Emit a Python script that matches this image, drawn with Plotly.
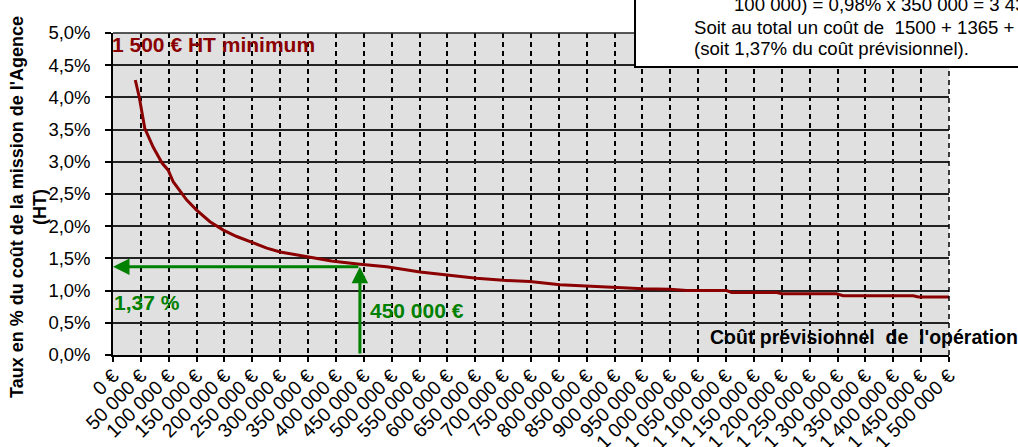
import plotly.graph_objects as go

# ---- data ----
cost = [40000, 47000, 57000, 72000, 88000, 99000, 108000, 132000, 150000, 174000,
        198000, 222000, 252000, 276000, 300000, 348000, 392000, 443000, 491000, 551000,
        599000, 652000, 700000, 748000, 802000, 850000, 904000, 951000, 999000, 1029000,
        1101000, 1110000, 1191000, 1200000, 1298000, 1310000, 1436000, 1445000, 1500000]
rate = [4.27, 4.01, 3.52, 3.23, 2.98, 2.87, 2.69, 2.41, 2.25, 2.07,
        1.94, 1.84, 1.74, 1.66, 1.60, 1.53, 1.46, 1.41, 1.37, 1.29,
        1.24, 1.19, 1.16, 1.14, 1.09, 1.07, 1.05, 1.03, 1.02, 1.00,
        1.00, 0.97, 0.97, 0.95, 0.95, 0.92, 0.92, 0.90, 0.90]

x_ticks = list(range(0, 1500001, 50000))
x_ticktext = [f"{v:,}".replace(",", " ") + " €" for v in x_ticks]
y_ticks = [0, 0.5, 1.0, 1.5, 2.0, 2.5, 3.0, 3.5, 4.0, 4.5, 5.0]
y_ticktext = ["0,0%", "0,5%", "1,0%", "1,5%", "2,0%", "2,5%", "3,0%", "3,5%", "4,0%", "4,5%", "5,0%"]

example_cost = 443000
example_rate = 1.37

# ---- layout geometry (pixels) ----
W, H = 1018, 447
L, R, T, B = 113, 949, 33, 355


def xp(px):
    return (px - L) / (R - L)


def yp(py):
    return (B - py) / (B - T)


FONT = "Arial, Liberation Sans, sans-serif"
GREEN = "#008000"
DARKRED = "#8B0000"

fig = go.Figure()
fig.add_trace(go.Scatter(x=cost, y=rate, mode="lines",
                         line=dict(color=DARKRED, width=3), showlegend=False,
                         hoverinfo="skip"))

fig.update_layout(
    width=W, height=H,
    margin=dict(l=L, r=W - R, t=T, b=H - B, autoexpand=False),
    paper_bgcolor="white",
    plot_bgcolor="#E0E0E0",
    font=dict(family=FONT, color="black"),
    showlegend=False,
)

fig.update_xaxes(
    range=[0, 1500000], tickmode="array", tickvals=x_ticks, ticktext=x_ticktext,
    tickangle=-45, tickfont=dict(size=19.5, family=FONT),
    showgrid=True, gridcolor="black", gridwidth=1.5, griddash="5px,4px",
    showline=True, linecolor="black", linewidth=1.5,
    ticks="outside", ticklen=5, tickcolor="black", tickwidth=1.5,
    ticklabelstandoff=-5,
    zeroline=False, automargin=False,
)
fig.update_yaxes(
    range=[0, 5], tickmode="array", tickvals=y_ticks, ticktext=y_ticktext,
    tickfont=dict(size=18.5, family=FONT),
    showgrid=True, gridcolor="#222222", gridwidth=1.5,
    showline=True, linecolor="black", linewidth=1.5,
    ticks="outside", ticklen=6, tickcolor="black", tickwidth=1.5,
    ticklabelstandoff=11,
    zeroline=False, automargin=False,
)

shapes = [
    dict(type="line", xref="paper", yref="paper", x0=0, x1=1, y0=1, y1=1,
         line=dict(color="#222222", width=1.5)),
    dict(type="line", xref="paper", yref="paper", x0=1, x1=1, y0=0, y1=1,
         line=dict(color="black", width=1.5, dash="5px,4px")),
    dict(type="rect", xref="paper", yref="paper", x0=xp(635), x1=xp(1040),
         y0=yp(67), y1=yp(-20), fillcolor="white",
         line=dict(color="black", width=2), layer="above"),
]
fig.update_layout(shapes=shapes)

ann = []
ann.append(dict(xref="paper", yref="paper", x=xp(28), y=yp(207),
                text="<b>Taux en % du coût de la mission de l'Agence<br>(HT)</b>",
                textangle=-90, showarrow=False, xanchor="center", yanchor="middle",
                font=dict(size=18, family=FONT, color="black")))
ann.append(dict(x=0, y=example_rate, xref="x", yref="y",
                ax=example_cost, ay=example_rate, axref="x", ayref="y",
                text="", showarrow=True, arrowhead=2, arrowsize=1.1,
                arrowwidth=3, arrowcolor=GREEN, standoff=0))
ann.append(dict(x=example_cost, y=example_rate, xref="x", yref="y",
                ax=example_cost, ay=0, axref="x", ayref="y",
                text="", showarrow=True, arrowhead=2, arrowsize=1.1,
                arrowwidth=3, arrowcolor=GREEN, standoff=0))
ann.append(dict(xref="paper", yref="paper", x=xp(110), y=yp(44),
                text="<b>1 500 € HT minimum</b>", showarrow=False,
                xanchor="left", yanchor="middle",
                font=dict(size=21, family=FONT, color=DARKRED)))
ann.append(dict(xref="paper", yref="paper", x=xp(112), y=yp(302),
                text="<b>1,37 %</b>", showarrow=False,
                xanchor="left", yanchor="middle",
                font=dict(size=21, family=FONT, color=GREEN)))
ann.append(dict(xref="paper", yref="paper", x=xp(368), y=yp(310),
                text="<b>450 000 €</b>", showarrow=False,
                xanchor="left", yanchor="middle",
                font=dict(size=21, family=FONT, color=GREEN)))
ann.append(dict(xref="paper", yref="paper", x=xp(708), y=yp(337),
                text="<b>Coût prévisionnel  de  l'opération</b>", showarrow=False,
                xanchor="left", yanchor="middle",
                font=dict(size=19.5, family=FONT, color="black")))
ann.append(dict(xref="paper", yref="paper", x=xp(732), y=yp(4),
                text="100 000) = 0,98% x 350 000 = 3 430 €", showarrow=False,
                xanchor="left", yanchor="middle",
                font=dict(size=18.6, family=FONT, color="black")))
ann.append(dict(xref="paper", yref="paper", x=xp(692), y=yp(27),
                text="Soit au total un coût de  1500 + 1365 + 3 430 €", showarrow=False,
                xanchor="left", yanchor="middle",
                font=dict(size=18.6, family=FONT, color="black")))
ann.append(dict(xref="paper", yref="paper", x=xp(692), y=yp(49),
                text="(soit 1,37% du coût prévisionnel).", showarrow=False,
                xanchor="left", yanchor="middle",
                font=dict(size=18.6, family=FONT, color="black")))
fig.update_layout(annotations=ann)

fig.write_html("out.html", config={"displayModeBar": False},
               post_script="document.body.style.margin='0px';document.body.style.overflow='hidden';")
